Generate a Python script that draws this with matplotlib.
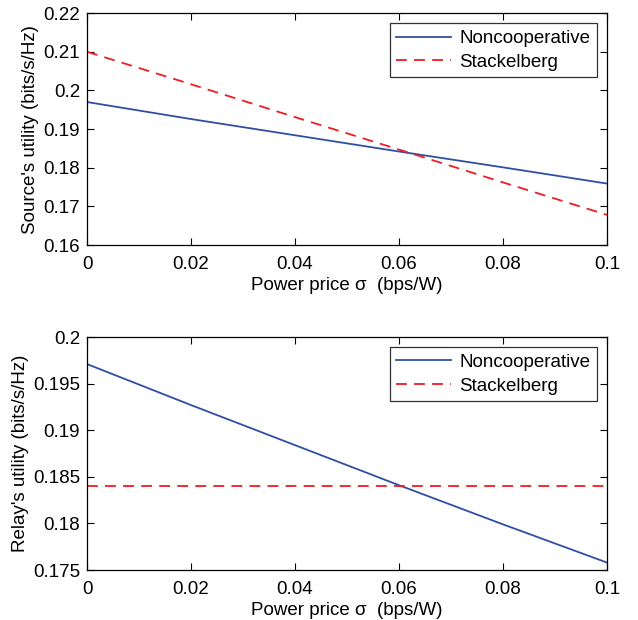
import matplotlib
matplotlib.use("Agg")
import matplotlib.pyplot as plt

plt.rcParams['font.family'] = ['Liberation Sans', 'DejaVu Sans']

price = [0.0, 0.02, 0.04, 0.06, 0.08, 0.10]
src_noncoop = [0.1970, 0.1926, 0.1884, 0.1842, 0.1801, 0.1759]
src_stack = [0.2100, 0.2016, 0.1931, 0.1847, 0.1762, 0.1678]
rel_noncoop = [0.1971, 0.1927, 0.1884, 0.1841, 0.1799, 0.1758]
rel_stack = [0.1840, 0.1840, 0.1840, 0.1840, 0.1840, 0.1840]

x_ticks = [0, 0.02, 0.04, 0.06, 0.08, 0.1]
x_ticklabels = ['0', '0.02', '0.04', '0.06', '0.08', '0.1']
top_yticks = [0.16, 0.17, 0.18, 0.19, 0.2, 0.21, 0.22]
top_ylabels = ['0.16', '0.17', '0.18', '0.19', '0.2', '0.21', '0.22']
bot_yticks = [0.175, 0.18, 0.185, 0.19, 0.195, 0.2]
bot_ylabels = ['0.175', '0.18', '0.185', '0.19', '0.195', '0.2']

blue = '#2e4fa3'
red = '#ee1c24'
fs = 13.5

fig = plt.figure(figsize=(6.38, 6.2), dpi=100)
ax1 = fig.add_axes([0.1364, 0.6048, 0.815, 0.374])
ax2 = fig.add_axes([0.1364, 0.0806, 0.815, 0.3758])

def style(ax, yticks, ylabels, ylim, ylabel):
    ax.set_xlim(0, 0.1)
    ax.set_ylim(*ylim)
    ax.set_xticks(x_ticks)
    ax.set_xticklabels(x_ticklabels, fontsize=fs)
    ax.set_yticks(yticks)
    ax.set_yticklabels(ylabels, fontsize=fs)
    ax.tick_params(direction='in', top=True, right=True, length=5, width=0.8)
    ax.tick_params(axis='x', pad=8)
    ax.tick_params(axis='y', pad=5)
    for s in ax.spines.values():
        s.set_linewidth(0.9)
    ax.set_xlabel('Power price σ  (bps/W)', fontsize=fs, labelpad=3)
    ax.set_ylabel(ylabel, fontsize=fs, labelpad=3)
    leg = ax.legend(loc='upper right', fontsize=fs, frameon=True, fancybox=False,
                    edgecolor='black', handlelength=2.9, borderaxespad=0.55,
                    handletextpad=0.45, labelspacing=0.35, borderpad=0.35)
    leg.get_frame().set_linewidth(0.9)

ax1.plot(price, src_noncoop, color=blue, lw=1.3, label='Noncooperative')
ax1.plot(price, src_stack, color=red, lw=1.3, ls=(0, (6, 4)), label='Stackelberg')
style(ax1, top_yticks, top_ylabels, (0.16, 0.22), "Source's utility (bits/s/Hz)")

ax2.plot(price, rel_noncoop, color=blue, lw=1.3, label='Noncooperative')
ax2.plot(price, rel_stack, color=red, lw=1.3, ls=(0, (6, 4)), label='Stackelberg')
style(ax2, bot_yticks, bot_ylabels, (0.175, 0.2), "Relay's utility (bits/s/Hz)")

fig.savefig('out.png', dpi=100)
